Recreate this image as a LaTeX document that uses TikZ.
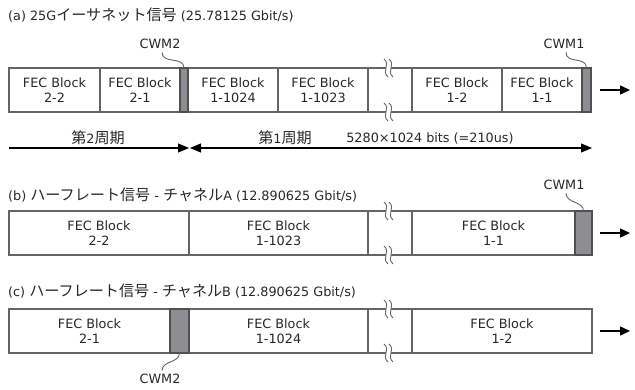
\documentclass[tikz,border=0pt]{standalone}
\usepackage{fontspec}
\setmainfont{DejaVu Sans}
\newfontfamily\jpfont[Scale=1.18]{Noto Sans CJK JP}
\usepackage{tikz}
\usetikzlibrary{positioning, arrows.meta}
\definecolor{cwmgray}{RGB}{142, 142, 146}
\definecolor{edgegray}{RGB}{100, 100, 100}
\definecolor{inkgray}{RGB}{40, 40, 40}

\begin{document}
\begin{tikzpicture}[x=1pt, y=-1pt, font=\fontsize{12.8}{14.8}\selectfont, text=inkgray,
  blk/.style={draw=edgegray, line width=1.2pt, minimum height=44pt, inner sep=0pt,
    outer sep=0pt, anchor=north west, align=center, fill=white},
  cwm/.style={blk, draw=edgegray!80!black, fill=cwmgray},
  lead/.style={edgegray, line width=0.9pt},
  ttl/.style={anchor=west, inner sep=0pt},
  outarr/.style={line width=1.4pt, -{Triangle[length=10pt, width=9pt]}},
  per/.style={line width=1.2pt},
  brk/.pic={
    \fill[white] (-5,-9) .. controls (2,-3) and (-8,3) .. (-1,9)
      -- (4,9) .. controls (-3,3) and (7,-3) .. (0,-9) -- cycle;
    \draw[lead] (-5,-9) .. controls (2,-3) and (-8,3) .. (-1,9);
    \draw[lead] (0,-9) .. controls (7,-3) and (-3,3) .. (4,9);
  }]
  \useasboundingbox (0,0) rectangle (635,390);

  % (a) 25G Ethernet
  \node[ttl] (ta) at (8,15) {(a) 25G{\jpfont イーサネット信号} (25.78125 Gbit/s)};
  \foreach \n/\x/\w/\t in {a22/9/91/{FEC Block\\2-2}, a21/100/80/{FEC Block\\2-1},
      a1024/188/90/{FEC Block\\1-1024}, a1023/278/90/{FEC Block\\1-1023},
      agap/368/44/{}, a12/412/90/{FEC Block\\1-2}, a11/502/80/{FEC Block\\1-1}} {
    \node[blk, minimum width=\w] (\n) at (\x,68) {\t};
  }
  \node[cwm, minimum width=8] (aw2) at (180,68) {};
  \node[cwm, minimum width=9] (aw1) at (582,68) {};
  \pic at (389,68) {brk};
  \pic at (389,112) {brk};
  \node (la2) at (160,44) {CWM2};
  \node (la1) at (564,44) {CWM1};
  \draw[lead] ([xshift=2pt]la2.south) .. controls +(0,12) and +(0,-12) .. (aw2.north);
  \draw[lead] ([xshift=2pt]la1.south) .. controls +(0,12) and +(0,-12) .. (aw1.north);
  \draw[outarr] ([xshift=9pt]aw1.east) -- ++(30,0);

  % periods
  \coordinate (p0) at (9,148);
  \coordinate (p2) at (189,148);
  \coordinate (p1) at (592,148);
  \draw[per, -{Triangle[length=11pt, width=9pt]}] (p0) -- (p2);
  \draw[per, {Triangle[length=11pt, width=9pt]}-{Triangle[length=11pt, width=9pt]}] ([xshift=1pt]p2) -- (p1);
  \node (per2) at (98,138) {{\jpfont 第}2{\jpfont 周期}};
  \node (per1) at (285,138) {{\jpfont 第}1{\jpfont 周期}};
  \node (bits) at (430,138) {5280×1024 bits (=210us)};

  % (b) half rate, channel A
  \node[ttl] (tb) at (8,195) {(b) {\jpfont ハーフレート信号} - {\jpfont チャネル}A (12.890625 Gbit/s)};
  \foreach \n/\x/\w/\t in {b22/9/180/{FEC Block\\2-2}, b1023/189/179/{FEC Block\\1-1023},
      bgap/368/44/{}, b11/412/163/{FEC Block\\1-1}} {
    \node[blk, minimum width=\w] (\n) at (\x,211) {\t};
  }
  \node[cwm, minimum width=17] (bw1) at (575,211) {};
  \pic at (389,211) {brk};
  \pic at (389,255) {brk};
  \node (lb1) at (564,185) {CWM1};
  \draw[lead] ([xshift=2pt]lb1.south) .. controls +(0,10) and +(0,-10) .. (bw1.north);
  \draw[outarr] ([xshift=8pt]bw1.east) -- ++(30,0);

  % (c) half rate, channel B
  \node[ttl] (tc) at (8,291) {(c) {\jpfont ハーフレート信号} - {\jpfont チャネル}B (12.890625 Gbit/s)};
  \foreach \n/\x/\w/\t in {c21/9/161/{FEC Block\\2-1}, c1024/189/179/{FEC Block\\1-1024},
      cgap/368/44/{}, c12/412/180/{FEC Block\\1-2}} {
    \node[blk, minimum width=\w] (\n) at (\x,309) {\t};
  }
  \node[cwm, minimum width=19] (cw2) at (170,309) {};
  \pic at (389,309) {brk};
  \pic at (389,353) {brk};
  \node (lc2) at (160,379) {CWM2};
  \draw[lead] (cw2.south) .. controls +(0,10) and +(0,-10) .. ([xshift=2pt]lc2.north);
  \draw[outarr] ([xshift=8pt]c12.east) -- ++(30,0);
\end{tikzpicture}
\end{document}
